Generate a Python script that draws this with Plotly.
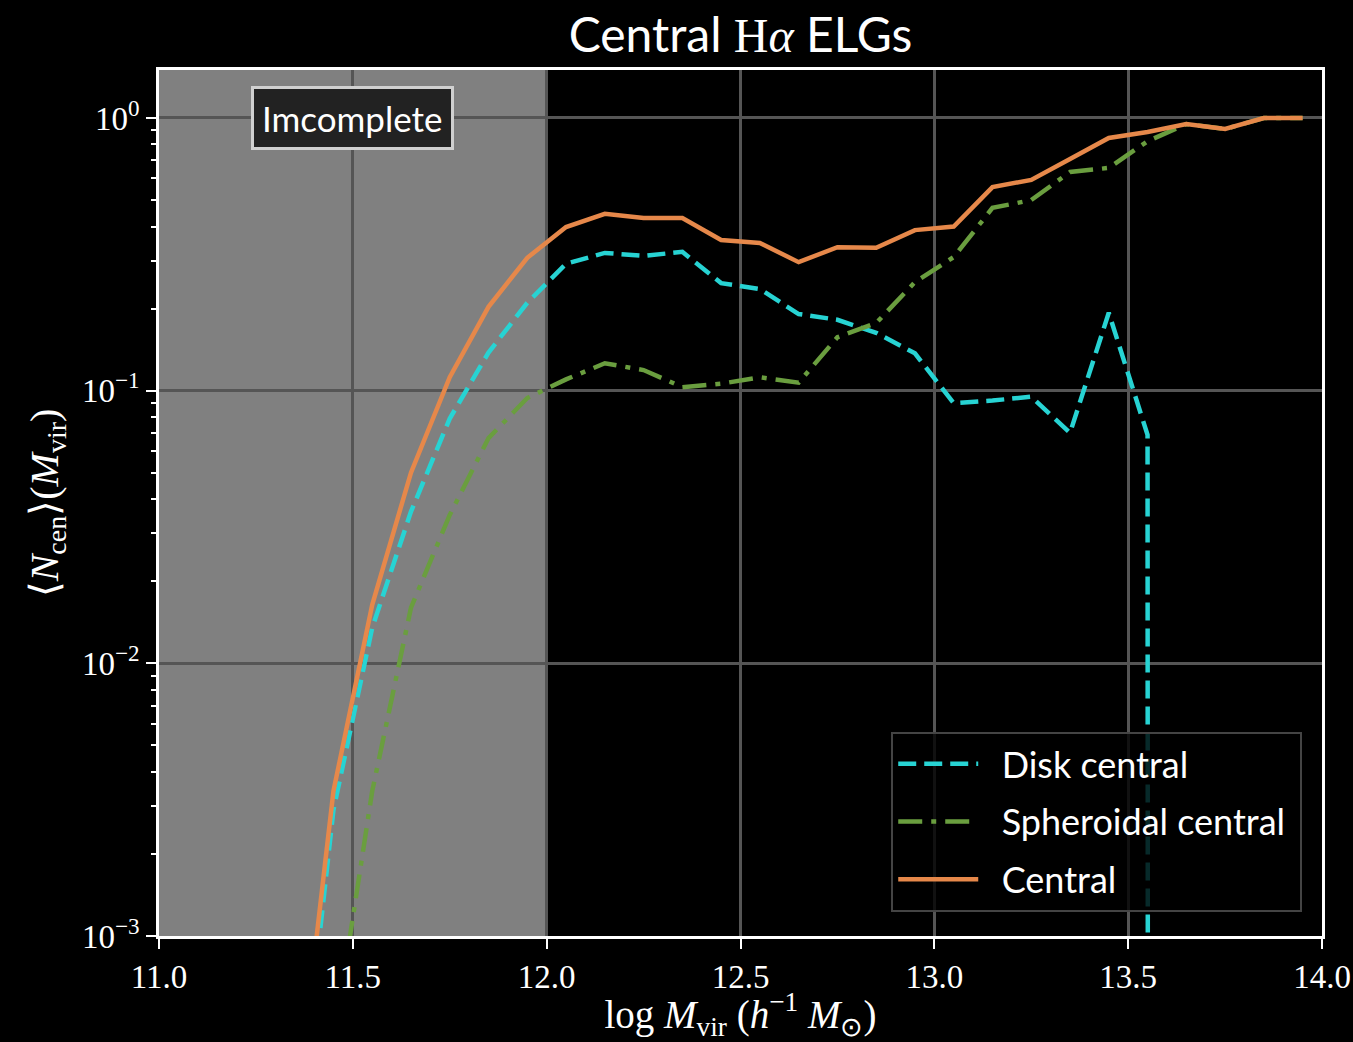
import plotly.graph_objects as go

# ---------------- data ----------------
log_mvir = [11.35, 11.45, 11.55, 11.65, 11.75, 11.85, 11.95, 12.05, 12.15, 12.25,
            12.35, 12.45, 12.55, 12.65, 12.75, 12.85, 12.95, 13.05, 13.15, 13.25,
            13.35, 13.45, 13.55, 13.65, 13.75, 13.85, 13.95]

disk_central = [1.5e-4, 0.0029, 0.0135, 0.036, 0.079, 0.138, 0.21, 0.292, 0.32, 0.312,
                0.323, 0.248, 0.236, 0.191, 0.182, 0.163, 0.137, 0.090, 0.092, 0.095,
                0.070, 0.193, 0.0688, 0.0, 0.0, 0.0, 0.0]

spheroidal_central = [0.0, 4.0e-4, 0.0034, 0.016, 0.035, 0.067, 0.094, 0.110, 0.126, 0.119,
                      0.103, 0.106, 0.112, 0.107, 0.157, 0.177, 0.250, 0.309, 0.468, 0.500,
                      0.634, 0.656, 0.822, 0.950, 0.911, 1.0, 1.0]

central = [2.0e-4, 0.0034, 0.0164, 0.050, 0.112, 0.203, 0.307, 0.398, 0.445, 0.430,
           0.430, 0.357, 0.348, 0.296, 0.336, 0.334, 0.388, 0.400, 0.558, 0.593,
           0.707, 0.845, 0.889, 0.950, 0.911, 1.0, 1.0]

series_names = ["Disk central", "Spheroidal central", "Central"]
incomplete_range = [11.0, 12.0]
x_ticks = [11.0, 11.5, 12.0, 12.5, 13.0, 13.5, 14.0]
y_ticks = [1e-3, 1e-2, 1e-1, 1e0]
y_tick_text = ["10<sup>\u22123</sup>", "10<sup>\u22122</sup>", "10<sup>\u22121</sup>", "10<sup>0</sup>"]
y_minor = [m * 10.0 ** e for e in (-3, -2, -1) for m in range(2, 10)]


def clip_log(values):
    # non-positive values are clipped far below the axis (as a log plot does)
    return [v if v > 0 else 1e-300 for v in values]


SERIF = "Liberation Serif, Times New Roman, serif"
SANS = "Lato, Open Sans, sans-serif"
PAD = "\u00a0\u00a0"

fig = go.Figure()

styles = [
    dict(color="#27d3d3", width=4.5, dash="18px,8px"),
    dict(color="#6a9e3f", width=4.5, dash="24px,9px,5px,9px"),
    dict(color="#e6884a", width=4.5),
]
for i, (vals, name, st) in enumerate(zip([disk_central, spheroidal_central, central],
                                         series_names, styles)):
    fig.add_trace(go.Scatter(
        x=log_mvir, y=clip_log(vals), mode="lines", name=PAD + name + "\u00a0",
        legendgroup=f"g{i}", line=st,
    ))

# incomplete shaded region
fig.add_shape(type="rect", xref="x", yref="paper",
              x0=incomplete_range[0], x1=incomplete_range[1], y0=0, y1=1,
              fillcolor="#808080", line=dict(width=0), layer="below")

fig.add_annotation(x=11.5, y=0, xref="x", yref="y", text="Imcomplete",
                   showarrow=False, font=dict(family=SANS, size=35, color="white"),
                   bgcolor="#222222", bordercolor="#d0d0d0", borderwidth=3, borderpad=8)

fig.update_layout(
    width=1353, height=1042, autosize=False,
    paper_bgcolor="black", plot_bgcolor="black",
    margin=dict(l=159, r=31, t=70, b=106),
    title=dict(text="Central <span style='font-family:Liberation Serif'>H<i>\u03b1</i></span> ELGs",
               x=0.5, xref="paper", xanchor="center", y=0.966, yanchor="middle",
               font=dict(family=SANS, size=48, color="white")),
    showlegend=True,
    legend=dict(x=0.983, y=0.028, xanchor="right", yanchor="bottom",
                bgcolor="rgba(0,0,0,0.8)", bordercolor="#444444", borderwidth=2,
                font=dict(family=SANS, size=36, color="white"),
                itemwidth=80, tracegroupgap=8),
)

fig.update_xaxes(
    range=[11.0, 14.0], tickvals=x_ticks, ticktext=[f"{v:.1f}" for v in x_ticks],
    automargin=False,
    ticks="outside", ticklen=10, tickwidth=2, tickcolor="white",
    showgrid=True, gridcolor="#555555", gridwidth=2.5,
    showline=True, linecolor="white", linewidth=2.5, mirror=True,
    zeroline=False,
    tickfont=dict(family=SERIF, size=33, color="white"),
    title=dict(text="log <i>M</i><sub>vir</sub> (<i>h</i><sup>\u22121</sup> <i>M</i><sub>\u2299</sub>)",
               font=dict(family=SERIF, size=39, color="white"), standoff=6),
)

fig.update_yaxes(
    type="log", range=[-3.0, 0.176], tickvals=y_ticks, ticktext=y_tick_text,
    automargin=False,
    ticks="outside", ticklen=10, tickwidth=2, tickcolor="white",
    minor=dict(tickvals=y_minor, ticks="outside", ticklen=5, tickwidth=1.5,
               tickcolor="white", showgrid=False),
    showgrid=True, gridcolor="#555555", gridwidth=2.5,
    showline=True, linecolor="white", linewidth=2.5, mirror=True,
    zeroline=False,
    tickfont=dict(family=SERIF, size=33, color="white"),
    title=dict(text="\u27e8<i>N</i><sub>cen</sub>\u27e9(<i>M</i><sub>vir</sub>)",
               font=dict(family=SERIF, size=40, color="white"), standoff=12),
)

fig.write_html("out.html",
               config={"displayModeBar": False, "responsive": False},
               post_script="document.body.style.margin='0';"
                           "document.body.style.overflow='hidden';"
                           "document.body.style.background='black';")
